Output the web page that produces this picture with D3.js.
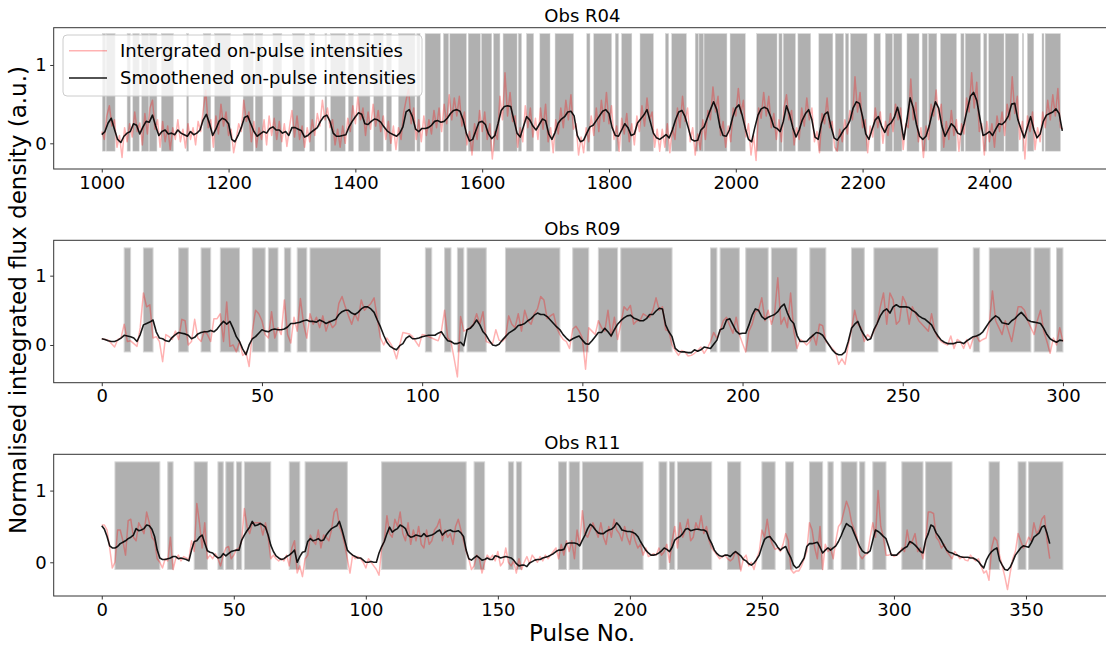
<!DOCTYPE html>
<html>
<head>
<meta charset="utf-8">
<script src="https://cdn.jsdelivr.net/npm/d3@7"></script>
<style>
  body { margin: 0; background: #fff; }
  svg { display: block; }
  text { font-family: "DejaVu Sans", sans-serif; fill: #000; }
</style>
</head>
<body>
<svg id="chart" width="1106" height="645"></svg>
<script>
// ---------- Obs R04 (pulses 1000 - 2516) ----------
const r04Start = 1000;
const r04RawStep = 4;
const r04SmoothStep = 5;
const r04Raw = [
  0.15,0.05,0.35,0.48,0.22,0.30,-0.05,0.10,-0.18,0.20,
  0.02,0.25,0.08,0.40,0.15,0.26,-0.02,0.38,0.12,0.45,
  0.55,0.18,0.30,-0.05,0.28,0.02,0.22,-0.08,0.20,0.05,
  0.30,0.02,0.18,-0.06,0.25,0.05,0.20,-0.02,0.28,0.15,
  0.42,0.68,0.20,0.30,-0.05,0.35,0.12,0.50,0.22,0.40,
  0.10,0.18,-0.12,0.05,0.25,0.15,0.55,0.28,0.40,0.02,
  0.28,-0.05,0.20,0.05,0.30,-0.02,0.35,0.10,0.32,0.05,
  0.28,0.02,0.25,-0.04,0.20,0.42,0.08,0.35,0.05,0.22,
  -0.05,0.20,0.02,0.30,0.10,0.38,0.22,0.55,0.30,0.45,
  0.20,0.30,-0.02,0.18,-0.05,0.22,0.00,0.32,0.15,0.48,
  0.25,0.60,0.30,0.45,0.10,0.40,0.18,0.50,0.22,0.42,
  0.15,0.35,0.05,0.28,0.00,0.22,-0.08,0.20,0.05,0.38,
  0.55,0.70,0.25,0.45,0.05,0.30,0.02,0.35,0.10,0.30,
  0.12,0.42,0.20,0.45,0.15,0.50,0.25,0.62,0.30,0.58,
  0.35,0.60,0.22,0.40,-0.02,0.15,-0.15,0.25,0.05,0.42,
  0.15,0.40,0.05,0.25,-0.20,0.15,0.05,0.60,0.30,0.90,
  0.35,0.65,0.28,0.35,-0.05,0.20,0.02,0.48,0.20,0.45,
  0.08,0.32,0.05,0.45,0.18,0.50,0.02,0.20,-0.12,0.30,
  0.12,0.45,0.20,0.55,0.30,0.62,0.18,0.25,-0.15,0.08,
  -0.12,0.20,0.02,0.35,0.10,0.45,0.15,0.55,0.28,0.65,
  0.25,0.48,0.05,0.22,-0.10,0.32,0.12,0.38,0.02,0.25,
  -0.02,0.35,0.15,0.48,0.22,0.58,0.30,0.40,-0.05,0.18,
  -0.10,0.18,-0.05,0.25,-0.12,0.20,0.05,0.45,0.20,0.60,
  0.28,0.45,0.02,0.20,-0.15,0.12,-0.08,0.30,0.05,0.42,
  0.30,0.72,0.40,0.60,0.10,0.28,-0.05,0.22,0.02,0.45,
  0.35,0.70,0.38,0.55,0.08,0.25,-0.15,0.10,-0.22,0.45,
  0.32,0.65,0.35,0.60,0.20,0.38,0.05,0.30,0.02,0.45,
  0.62,0.30,0.42,-0.02,0.20,0.05,0.45,0.22,0.58,0.30,
  0.45,0.02,0.15,-0.12,0.38,0.25,0.58,0.20,0.28,-0.05,
  -0.10,0.18,0.02,0.30,0.12,0.42,0.30,0.85,0.40,0.65,
  0.20,0.30,-0.12,0.22,0.08,0.45,0.20,0.40,0.00,0.28,
  0.10,0.38,0.15,0.50,0.30,0.45,-0.08,0.25,0.20,0.82,
  0.30,0.52,0.02,0.20,-0.18,0.22,0.05,0.50,0.35,0.68,
  0.30,0.50,-0.05,0.28,0.05,0.42,0.10,0.30,-0.10,0.25,
  0.12,0.58,0.40,0.90,0.45,0.78,0.15,0.25,-0.15,0.28,
  0.02,0.25,-0.05,0.35,0.15,0.40,0.10,0.50,0.30,0.85,
  0.38,0.60,0.05,0.28,-0.20,0.35,0.15,0.40,-0.08,0.20,
  0.02,0.40,0.20,0.55,0.30,0.62,0.35,0.70,0.20,0.18
];
const r04Smooth = [
  0.11,0.15,0.26,0.32,0.18,0.05,0.01,0.09,0.13,0.15,
  0.25,0.23,0.12,0.21,0.28,0.27,0.36,0.22,0.10,0.15,
  0.17,0.12,0.13,0.11,0.17,0.13,0.11,0.09,0.15,0.11,
  0.13,0.17,0.30,0.37,0.25,0.10,0.18,0.28,0.32,0.30,
  0.25,0.05,0.02,0.10,0.20,0.33,0.35,0.25,0.15,0.09,
  0.12,0.15,0.13,0.19,0.21,0.17,0.17,0.13,0.15,0.10,
  0.20,0.20,0.18,0.16,0.08,0.10,0.14,0.17,0.20,0.28,
  0.34,0.36,0.28,0.13,0.09,0.09,0.10,0.11,0.21,0.28,
  0.34,0.39,0.37,0.25,0.24,0.28,0.31,0.30,0.27,0.21,
  0.16,0.13,0.11,0.09,0.13,0.21,0.40,0.43,0.34,0.18,
  0.15,0.19,0.19,0.20,0.23,0.28,0.29,0.27,0.28,0.32,
  0.38,0.42,0.43,0.41,0.30,0.13,0.03,0.05,0.16,0.27,
  0.28,0.24,0.12,0.06,0.10,0.25,0.42,0.47,0.48,0.47,
  0.30,0.13,0.08,0.21,0.34,0.30,0.22,0.17,0.24,0.31,
  0.29,0.12,0.05,0.14,0.26,0.31,0.34,0.40,0.41,0.35,
  0.10,0.02,0.04,0.13,0.21,0.23,0.29,0.35,0.41,0.43,
  0.38,0.20,0.10,0.09,0.17,0.25,0.20,0.10,0.12,0.26,
  0.31,0.36,0.43,0.28,0.13,0.07,0.05,0.08,0.11,0.07,
  0.17,0.30,0.40,0.42,0.34,0.20,0.05,0.03,0.04,0.17,
  0.21,0.32,0.43,0.53,0.43,0.21,0.10,0.09,0.17,0.33,
  0.45,0.49,0.36,0.19,0.05,0.02,0.20,0.36,0.44,0.46,
  0.44,0.34,0.21,0.19,0.15,0.28,0.48,0.36,0.20,0.08,
  0.17,0.30,0.38,0.43,0.30,0.08,0.05,0.25,0.37,0.40,
  0.22,0.07,0.04,0.10,0.17,0.21,0.29,0.45,0.53,0.51,
  0.34,0.12,0.05,0.18,0.30,0.34,0.22,0.14,0.23,0.26,
  0.33,0.46,0.30,0.05,0.30,0.58,0.45,0.24,0.09,0.05,
  0.09,0.22,0.39,0.53,0.45,0.22,0.09,0.17,0.25,0.21,
  0.13,0.11,0.25,0.43,0.60,0.65,0.55,0.32,0.10,0.12,
  0.15,0.10,0.18,0.25,0.24,0.28,0.35,0.50,0.51,0.30,
  0.18,0.07,0.21,0.34,0.18,0.07,0.12,0.28,0.36,0.38,
  0.40,0.44,0.38,0.16
];
const r04Spans = [
  [1001,1006],[1007,1021],[1040,1045],[1049,1059],[1063,1074],[1075,1087],
  [1094,1113],[1134,1137],[1160,1172],[1178,1203],[1223,1239],[1242,1254],
  [1270,1284],[1301,1320],[1328,1336],[1352,1355],[1361,1384],[1389,1397],
  [1405,1423],[1429,1444],[1449,1457],[1468,1494],[1497,1502],[1510,1534],
  [1539,1547],[1549,1575],[1578,1597],[1599,1615],[1618,1628],[1633,1655],
  [1657,1662],[1670,1681],[1691,1707],[1715,1744],[1765,1770],[1776,1804],
  [1810,1815],[1820,1836],[1849,1870],[1889,1894],[1899,1922],[1936,1941],
  [1942,1949],[1950,1986],[1991,2015],[2033,2065],[2068,2073],[2075,2094],
  [2098,2118],[2131,2153],[2157,2170],[2173,2178],[2181,2207],[2218,2228],
  [2236,2247],[2249,2262],[2270,2289],[2294,2302],[2304,2317],[2323,2348],
  [2355,2360],[2362,2386],[2391,2396],[2399,2423],[2425,2446],[2452,2454],
  [2460,2470],[2483,2486],[2488,2512]
];
const r04Ticks = [1000, 1200, 1400, 1600, 1800, 2000, 2200, 2400];

// ---------- Obs R09 (pulses 0 - 300) ----------
const r09Raw = [
  0.09,0.08,0.07,0.02,-0.03,0.08,0.10,0.30,0.05,0.06,
  0.02,-0.02,0.25,0.75,0.55,0.58,0.10,0.12,0.05,-0.24,
  0.15,0.12,0.08,0.20,0.08,0.37,0.35,0.00,0.05,0.37,
  0.10,0.05,0.20,0.15,0.05,0.38,0.38,0.45,0.05,0.62,
  -0.02,0.00,-0.10,0.05,-0.15,-0.10,-0.31,0.20,0.50,0.45,
  0.35,0.15,0.10,0.48,0.10,0.25,0.15,0.65,0.15,0.03,
  0.40,0.20,0.67,0.30,0.10,0.45,0.30,0.40,0.25,0.42,
  0.20,0.35,0.25,0.30,0.60,0.70,0.55,0.42,0.30,0.45,
  0.35,0.65,0.50,0.55,0.60,0.68,0.38,0.10,0.00,0.10,
  0.03,-0.05,-0.20,0.00,0.18,0.17,0.16,0.12,0.05,-0.02,
  0.15,0.14,0.12,0.10,0.08,0.06,0.20,0.50,0.10,0.05,
  -0.20,-0.46,0.41,0.20,0.22,0.25,0.30,0.45,0.30,0.48,
  0.05,0.03,0.02,0.22,0.07,0.05,0.10,0.42,0.30,0.25,
  0.45,0.20,0.50,0.35,0.30,0.45,0.52,0.70,0.65,0.38,
  0.42,0.45,0.25,0.15,0.08,0.05,-0.05,0.23,0.27,0.20,
  0.10,-0.35,0.25,0.20,0.15,0.35,0.25,0.20,0.50,0.12,
  0.40,0.08,0.30,0.55,0.50,0.57,0.30,0.35,0.35,0.45,
  0.42,0.40,0.50,0.68,0.50,0.55,0.22,0.20,0.00,-0.08,
  -0.15,-0.08,-0.10,-0.16,-0.15,-0.12,-0.08,-0.03,-0.12,-0.05,
  0.05,0.18,0.10,0.20,0.35,0.40,0.28,0.17,0.40,0.15,
  0.02,-0.10,0.20,0.30,0.48,0.50,0.68,0.35,0.50,0.30,
  0.45,0.97,0.30,0.40,0.25,0.75,0.20,-0.05,0.08,0.05,
  0.00,0.05,0.15,0.00,0.30,0.28,0.05,0.00,-0.05,-0.10,
  -0.28,-0.20,-0.28,0.00,0.22,0.50,0.30,0.25,0.05,0.15,
  0.10,0.20,0.30,0.55,0.75,0.30,0.75,0.65,0.30,0.35,
  0.70,0.60,0.30,0.55,0.45,0.35,0.30,0.25,0.20,0.45,
  0.20,0.10,0.05,0.02,0.00,0.13,-0.05,0.08,0.05,-0.05,
  0.08,-0.05,0.10,0.13,0.05,0.08,0.10,0.30,0.78,0.35,
  0.25,0.15,0.35,0.20,0.05,0.30,0.55,0.55,0.50,0.35,
  0.25,0.15,0.35,0.50,0.20,0.05,-0.12,0.10,0.00,0.25,
  0.05
];
const r09Smooth = [
  0.09,0.08,0.06,0.05,0.05,0.07,0.10,0.14,0.13,0.12,
  0.10,0.05,0.15,0.29,0.31,0.33,0.36,0.19,0.10,0.09,
  0.06,0.05,0.11,0.15,0.18,0.17,0.16,0.14,0.09,0.11,
  0.16,0.18,0.19,0.19,0.21,0.19,0.23,0.29,0.34,0.30,
  0.34,0.24,0.12,0.05,-0.06,-0.14,0.00,0.09,0.12,0.17,
  0.22,0.20,0.19,0.22,0.23,0.22,0.22,0.23,0.26,0.31,
  0.31,0.32,0.33,0.35,0.36,0.34,0.34,0.33,0.36,0.34,
  0.31,0.33,0.35,0.37,0.44,0.48,0.50,0.50,0.46,0.44,
  0.47,0.52,0.55,0.55,0.52,0.47,0.36,0.26,0.14,0.04,
  -0.02,-0.05,-0.07,-0.01,0.02,0.10,0.13,0.09,0.09,0.10,
  0.12,0.13,0.14,0.14,0.14,0.17,0.19,0.12,0.06,0.05,
  0.02,0.02,0.04,-0.01,0.22,0.24,0.29,0.36,0.29,0.19,
  0.14,0.06,0.00,-0.01,0.01,0.07,0.12,0.17,0.20,0.23,
  0.28,0.29,0.31,0.35,0.38,0.43,0.46,0.44,0.44,0.41,
  0.36,0.31,0.26,0.22,0.15,0.10,0.06,0.09,0.11,0.13,
  0.07,0.02,0.01,0.06,0.12,0.18,0.18,0.24,0.19,0.13,
  0.22,0.30,0.35,0.39,0.42,0.43,0.39,0.37,0.35,0.35,
  0.38,0.44,0.44,0.49,0.53,0.52,0.29,0.19,0.12,-0.05,
  -0.09,-0.10,-0.10,-0.11,-0.11,-0.07,-0.09,-0.07,-0.03,-0.04,
  -0.05,0.01,0.07,0.22,0.24,0.36,0.38,0.29,0.20,0.16,
  0.17,0.17,0.29,0.43,0.52,0.50,0.41,0.37,0.40,0.42,
  0.44,0.48,0.55,0.59,0.46,0.36,0.31,0.14,0.05,0.05,
  0.05,0.10,0.14,0.18,0.17,0.14,0.07,0.00,-0.07,-0.12,
  -0.14,-0.14,-0.10,0.05,0.24,0.30,0.34,0.22,0.14,0.07,
  0.09,0.22,0.31,0.42,0.49,0.52,0.46,0.55,0.58,0.55,
  0.55,0.55,0.54,0.50,0.47,0.42,0.39,0.37,0.33,0.29,
  0.20,0.13,0.07,0.04,0.02,0.02,0.02,0.04,0.04,0.02,
  0.06,0.09,0.12,0.13,0.15,0.19,0.26,0.33,0.38,0.42,
  0.39,0.32,0.31,0.30,0.35,0.38,0.43,0.47,0.42,0.36,
  0.34,0.33,0.32,0.31,0.24,0.15,0.09,0.06,0.04,0.07,
  0.06
];
const r09Spans = [
  [7,9],[13,16],[24,27],[31,34],[37,43],[47,51],[52,55],[57,59],[61,64],[65,87],
  [101,103],[107,109],[111,113],[114,120],[126,143],[147,152],[155,161],[162,178],
  [190,192],[193,199],[201,208],[209,217],[221,226],[234,238],[241,261],[272,274],
  [277,290],[291,296],[298,300]
];
const r09Ticks = [0, 50, 100, 150, 200, 250, 300];

// ---------- Obs R11 (pulses 0 - 359) ----------
const r11Raw = [
  0.52,0.52,0.45,0.20,-0.08,0.00,0.45,0.45,0.30,0.10,
  0.58,0.60,0.35,0.30,0.55,0.48,0.40,0.70,0.55,0.35,
  0.30,0.05,0.00,-0.08,0.05,0.02,0.35,-0.10,0.05,0.10,
  0.02,0.08,0.06,0.04,0.30,0.15,0.82,0.55,0.20,0.55,
  0.05,0.10,0.05,0.12,0.05,-0.05,0.10,0.20,0.22,0.05,
  0.10,0.18,0.20,0.30,0.75,0.50,0.40,0.55,0.55,0.55,
  0.55,0.38,0.55,0.35,0.05,0.10,0.05,0.02,0.05,0.02,
  0.10,-0.05,0.20,0.30,-0.15,-0.05,-0.20,0.05,0.10,0.38,
  0.30,0.25,0.45,0.20,0.38,0.35,0.30,0.45,0.70,0.75,
  0.50,0.40,0.25,0.05,-0.15,0.10,0.05,0.08,0.05,0.00,
  -0.08,0.05,0.00,-0.05,-0.10,-0.18,0.20,0.30,0.65,0.40,
  0.35,0.60,0.50,0.70,0.40,0.30,0.55,0.25,0.45,0.30,
  0.50,0.25,0.20,0.45,0.25,0.30,0.45,0.50,0.60,0.30,
  0.45,0.35,0.40,0.25,0.50,0.60,0.45,0.30,0.15,0.05,
  -0.10,-0.05,0.10,0.05,-0.15,0.00,0.10,0.05,0.10,0.02,
  0.15,-0.05,0.00,0.20,0.00,-0.05,0.02,-0.15,0.05,-0.10,
  0.00,0.08,-0.02,0.10,0.05,0.00,0.08,0.02,0.10,0.05,
  0.10,0.15,0.20,0.05,0.25,0.10,0.30,0.15,0.30,0.05,
  0.45,0.25,0.72,0.40,0.35,0.45,0.55,0.45,0.35,0.55,
  0.35,0.25,0.50,0.35,0.60,0.45,0.40,0.30,0.50,0.35,
  0.25,0.45,0.30,0.20,0.25,0.10,0.20,0.08,0.10,0.12,
  0.10,0.20,0.10,0.15,0.25,0.00,0.30,0.50,0.20,0.55,
  0.35,0.45,0.60,0.30,0.35,0.55,0.45,0.65,0.40,0.50,
  0.30,0.20,0.15,0.10,0.05,0.08,0.10,0.05,0.02,0.05,
  0.15,0.10,-0.12,0.05,0.10,-0.05,0.00,-0.10,0.05,0.15,
  0.45,0.35,0.60,0.35,0.25,0.18,0.20,0.15,0.25,0.40,
  0.30,-0.10,-0.15,-0.12,-0.12,-0.05,0.05,0.15,0.55,0.45,
  0.20,0.05,0.50,-0.10,0.25,0.15,0.20,0.05,0.30,0.50,
  0.55,0.70,0.85,0.75,0.55,0.45,0.35,0.10,0.05,0.10,
  0.12,0.35,0.55,0.35,1.00,0.50,0.35,0.10,0.10,0.12,
  0.08,0.10,0.12,0.20,0.15,0.45,0.25,0.30,0.40,0.15,
  0.20,0.05,0.30,0.70,0.70,0.68,0.35,0.30,0.20,0.25,
  0.15,0.10,0.05,0.15,0.10,0.05,0.08,0.03,0.02,0.10,
  0.05,0.02,0.05,-0.05,-0.15,-0.12,-0.25,0.20,0.35,0.30,
  0.10,-0.05,-0.20,-0.38,-0.15,0.05,0.15,0.40,0.30,0.20,
  0.25,0.35,0.30,0.55,0.40,0.45,0.60,0.65,0.30,0.05
];
const r11Smooth = [
  0.51,0.46,0.36,0.23,0.20,0.20,0.22,0.26,0.28,0.30,
  0.33,0.35,0.38,0.47,0.44,0.45,0.47,0.52,0.51,0.46,
  0.36,0.17,0.06,0.04,0.04,0.05,0.06,0.08,0.08,0.05,
  0.06,0.05,0.04,0.02,0.17,0.29,0.30,0.35,0.38,0.27,
  0.16,0.14,0.13,0.09,0.06,0.07,0.12,0.09,0.12,0.15,
  0.16,0.17,0.17,0.31,0.38,0.44,0.49,0.57,0.51,0.52,
  0.54,0.52,0.49,0.38,0.24,0.15,0.09,0.06,0.04,0.05,
  0.08,0.10,0.13,0.17,0.00,0.08,0.14,0.15,0.29,0.33,
  0.30,0.31,0.33,0.30,0.31,0.38,0.43,0.47,0.49,0.51,
  0.57,0.45,0.31,0.17,0.13,0.10,0.08,0.06,0.06,0.03,
  0.00,0.00,0.01,0.00,0.00,0.13,0.22,0.29,0.40,0.49,
  0.42,0.45,0.47,0.52,0.50,0.47,0.38,0.35,0.36,0.38,
  0.37,0.36,0.40,0.36,0.37,0.38,0.40,0.43,0.45,0.38,
  0.42,0.44,0.45,0.43,0.43,0.44,0.41,0.36,0.17,0.05,
  0.03,0.06,0.09,0.06,0.03,0.04,0.06,0.04,0.04,0.09,
  0.08,0.06,0.07,0.08,0.07,0.06,0.03,-0.02,-0.05,-0.04,
  -0.04,-0.06,-0.01,0.01,0.03,0.04,0.04,0.06,0.07,0.08,
  0.10,0.12,0.15,0.17,0.17,0.18,0.26,0.27,0.27,0.27,
  0.26,0.23,0.31,0.38,0.47,0.53,0.50,0.45,0.41,0.40,
  0.40,0.43,0.45,0.46,0.49,0.55,0.51,0.45,0.44,0.43,
  0.43,0.42,0.40,0.36,0.29,0.23,0.17,0.13,0.10,0.10,
  0.11,0.13,0.16,0.20,0.18,0.15,0.21,0.31,0.34,0.36,
  0.40,0.46,0.47,0.44,0.45,0.46,0.46,0.45,0.45,0.43,
  0.33,0.26,0.17,0.12,0.09,0.08,0.10,0.10,0.08,0.12,
  0.15,0.12,0.09,0.04,0.02,-0.02,-0.04,-0.01,0.04,0.10,
  0.22,0.32,0.35,0.36,0.31,0.27,0.21,0.17,0.20,0.22,
  0.13,0.06,-0.04,-0.08,-0.06,0.00,0.06,0.22,0.26,0.26,
  0.27,0.28,0.21,0.13,0.17,0.20,0.17,0.20,0.23,0.29,
  0.37,0.46,0.54,0.51,0.49,0.40,0.31,0.22,0.16,0.13,
  0.13,0.16,0.31,0.45,0.43,0.40,0.36,0.33,0.22,0.10,
  0.10,0.10,0.14,0.17,0.20,0.22,0.29,0.27,0.24,0.20,
  0.15,0.13,0.31,0.40,0.52,0.50,0.41,0.36,0.30,0.23,
  0.17,0.14,0.13,0.11,0.10,0.08,0.07,0.07,0.07,0.06,
  0.06,0.04,0.01,-0.04,-0.08,0.03,0.10,0.15,0.18,0.20,
  0.03,-0.04,-0.10,-0.11,-0.07,0.01,0.10,0.15,0.20,0.23,
  0.22,0.21,0.27,0.35,0.38,0.41,0.49,0.51,0.40,0.26
];
const r11Spans = [
  [5,22],[25,27],[35,40],[44,46],[47,50],[51,53],[54,64],[71,75],[77,93],
  [106,138],[141,145],[154,156],[157,159],[173,176],[177,181],[182,205],
  [211,214],[215,217],[218,231],[237,242],[250,255],[259,262],[268,273],
  [275,277],[280,286],[287,289],[292,297],[303,311],[312,322],[336,340],
  [347,350],[351,364]
];
const r11Ticks = [0, 50, 100, 150, 200, 250, 300, 350];

const yTickValues = [0, 1];
const spanLow = -0.1, spanHigh = 1.4;

const legendLabels = ["Intergrated on-pulse intensities", "Smoothened on-pulse intensities"];

// ---------- layout ----------
const svg = d3.select("#chart");
const plotLeft = 53.7, plotRight = 1111;

const panels = [
  { title: "Obs R04", top: 27.7, bottom: 169, xDomain: [924.2, 2591.8], yDomain: [-0.328, 1.476],
    ticks: r04Ticks, spans: r04Spans, spanEdge: 0.5,
    raw: r04Raw.map((v, i) => [r04Start + i * r04RawStep, v]),
    smooth: r04Smooth.map((v, i) => [r04Start + i * r04SmoothStep, v]) },
  { title: "Obs R09", top: 240.3, bottom: 382.7, xDomain: [-15, 315], yDomain: [-0.544, 1.51],
    ticks: r09Ticks, spans: r09Spans, spanEdge: 1,
    raw: r09Raw.map((v, i) => [i, v]),
    smooth: r09Smooth.map((v, i) => [i, v]) },
  { title: "Obs R11", top: 454.3, bottom: 596, xDomain: [-18.2, 382.2], yDomain: [-0.47, 1.506],
    ticks: r11Ticks, spans: r11Spans, spanEdge: 1,
    raw: r11Raw.map((v, i) => [i, v]),
    smooth: r11Smooth.map((v, i) => [i, v]) }
];

const fontSize = 18;
const intFormat = d3.format("d");

panels.forEach((p, k) => {
  const x = d3.scaleLinear().domain(p.xDomain).range([plotLeft, plotRight]);
  const y = d3.scaleLinear().domain(p.yDomain).range([p.bottom, p.top]);
  const g = svg.append("g");

  const clipId = "clip" + k;
  svg.append("clipPath").attr("id", clipId)
    .append("rect").attr("x", plotLeft).attr("y", p.top)
    .attr("width", plotRight - plotLeft).attr("height", p.bottom - p.top);

  const plot = g.append("g").attr("clip-path", `url(#${clipId})`);

  // on-pulse windows
  plot.selectAll("rect.span").data(p.spans).join("rect")
    .attr("class", "span")
    .attr("x", d => x(d[0]))
    .attr("width", d => x(d[1]) - x(d[0]))
    .attr("y", y(spanHigh))
    .attr("height", y(spanLow) - y(spanHigh))
    .attr("fill", "#b0b0b0")
    .attr("stroke", "#d4d4d4")
    .attr("stroke-width", p.spanEdge);

  const line = d3.line().x(d => x(d[0])).y(d => y(d[1]));

  plot.append("path").datum(p.raw)
    .attr("d", line).attr("fill", "none")
    .attr("stroke", "red").attr("stroke-opacity", 0.3)
    .attr("stroke-width", 1.5).attr("stroke-linejoin", "round");

  plot.append("path").datum(p.smooth)
    .attr("d", line).attr("fill", "none")
    .attr("stroke", "#000").attr("stroke-opacity", 0.9)
    .attr("stroke-width", 1.6).attr("stroke-linejoin", "round");

  // axes
  const xAxis = d3.axisBottom(x).tickValues(p.ticks).tickFormat(intFormat)
    .tickSize(3.5).tickPadding(3.5).tickSizeOuter(0);
  const gx = g.append("g").attr("transform", `translate(0,${p.bottom})`).call(xAxis);
  const yAxis = d3.axisLeft(y).tickValues(yTickValues).tickFormat(intFormat)
    .tickSize(3.5).tickPadding(3.5).tickSizeOuter(0);
  const gy = g.append("g").attr("transform", `translate(${plotLeft},0)`).call(yAxis);
  [gx, gy].forEach(a => {
    a.select(".domain").remove();
    a.selectAll(".tick line").attr("stroke", "#000").attr("stroke-width", 0.8);
    a.selectAll(".tick text").attr("font-size", fontSize)
      .attr("font-family", "DejaVu Sans, sans-serif").attr("fill", "#000");
  });

  // frame
  g.append("rect").attr("x", plotLeft).attr("y", p.top)
    .attr("width", plotRight - plotLeft).attr("height", p.bottom - p.top)
    .attr("fill", "none").attr("stroke", "#333").attr("stroke-width", 1);

  // title
  g.append("text").attr("x", (plotLeft + plotRight) / 2).attr("y", p.top - 5.5)
    .attr("text-anchor", "middle").attr("font-size", fontSize).text(p.title);

  // legend on the first panel
  if (k === 0) {
    const lg = g.append("g");
    lg.append("rect").attr("x", 63).attr("y", 35).attr("width", 359).attr("height", 61)
      .attr("rx", 4).attr("fill", "#fff").attr("fill-opacity", 0.8)
      .attr("stroke", "#cccccc").attr("stroke-width", 1);
    const styles = [
      { stroke: "red", opacity: 0.3 },
      { stroke: "#000", opacity: 0.9 }
    ];
    legendLabels.forEach((lab, i) => {
      const cy = 50.7 + i * 27.3;
      lg.append("line").attr("x1", 69).attr("x2", 107).attr("y1", cy).attr("y2", cy)
        .attr("stroke", styles[i].stroke).attr("stroke-opacity", styles[i].opacity)
        .attr("stroke-width", 1.5);
      lg.append("text").attr("x", 120).attr("y", cy).attr("dy", "0.35em")
        .attr("font-size", fontSize).text(lab);
    });
  }
});

// shared axis labels
svg.append("text").attr("transform", "translate(18,300) rotate(-90)")
  .attr("text-anchor", "middle").attr("dy", "0.35em").attr("font-size", 23)
  .text("Normalised integrated flux density (a.u.)");
svg.append("text").attr("x", 582).attr("y", 641)
  .attr("text-anchor", "middle").attr("font-size", 23).text("Pulse No.");
</script>
</body>
</html>
